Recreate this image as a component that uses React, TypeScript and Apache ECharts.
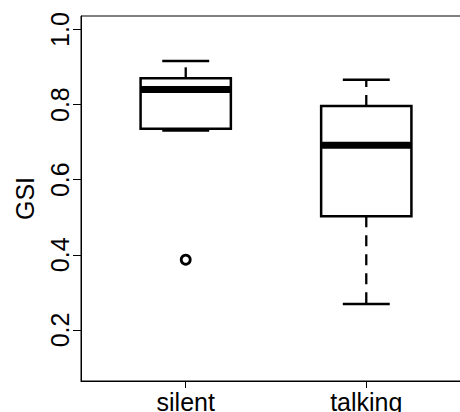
import React, { useEffect, useRef } from "react";
import * as echarts from "echarts";

const categories = ["silent", "talking"];
// [lower whisker, Q1, median, Q3, upper whisker]
const boxStats = [
  [0.731, 0.736, 0.84, 0.87, 0.916],
  [0.269, 0.503, 0.692, 0.796, 0.866],
];
const outliers = [[1, 0.387]];
const yTicks = [0.2, 0.4, 0.6, 0.8, 1.0];
const xTicks = [1, 2];

const FONT = "Liberation Sans, Arial, Helvetica, sans-serif";

export default function App() {
  const ref = useRef<HTMLDivElement>(null);
  useEffect(() => {
    if (!ref.current) return;
    const chart = echarts.init(ref.current, null, { renderer: "svg" });
    const boxData = boxStats.map((s, i) => [xTicks[i], ...s]);
    chart.setOption({
      animation: false,
      backgroundColor: "#fff",
      grid: {
        left: 81,
        top: 16,
        bottom: 31,
        right: -11,
        outerBoundsMode: "none",
        containLabel: false,
        show: true,
        borderColor: "#000",
        borderWidth: 1,
      },
      xAxis: {
        type: "value",
        min: 0.42,
        max: 2.58,
        splitLine: { show: false },
        axisLine: { show: true, lineStyle: { color: "#000", width: 1 } },
        axisTick: {
          show: true,
          customValues: xTicks,
          length: 7,
          lineStyle: { color: "#000", width: 1 },
        },
        axisLabel: {
          customValues: xTicks,
          formatter: (v: number) => categories[Math.round(v) - 1] ?? "",
          color: "#000",
          fontSize: 25,
          fontFamily: FONT,
          margin: 8,
        },
      },
      yAxis: {
        type: "value",
        min: 0.064,
        max: 1.036,
        name: "GSI",
        nameLocation: "middle",
        nameRotate: 90,
        nameGap: 44,
        nameTextStyle: { color: "#000", fontSize: 25, fontFamily: FONT },
        splitLine: { show: false },
        axisLine: { show: true, lineStyle: { color: "#000", width: 1 } },
        axisTick: {
          show: true,
          customValues: yTicks,
          length: 8,
          lineStyle: { color: "#000", width: 1 },
        },
        axisLabel: {
          customValues: yTicks,
          rotate: 90,
          formatter: (v: number) => v.toFixed(1),
          color: "#000",
          fontSize: 25,
          fontFamily: FONT,
          margin: 9,
        },
      },
      series: [
        {
          type: "custom",
          data: boxData,
          encode: { x: 0, y: [1, 2, 3, 4, 5] },
          renderItem: (params: any, api: any) => {
            const x = api.value(0);
            const lo = api.value(1);
            const q1 = api.value(2);
            const med = api.value(3);
            const q3 = api.value(4);
            const hi = api.value(5);
            const half = 0.25;
            const cap = 0.13;
            const pLo = api.coord([x, lo]);
            const pQ1 = api.coord([x, q1]);
            const pMed = api.coord([x, med]);
            const pQ3 = api.coord([x, q3]);
            const pHi = api.coord([x, hi]);
            const left = api.coord([x - half, med])[0];
            const right = api.coord([x + half, med])[0];
            const cl = api.coord([x - cap, med])[0];
            const cr = api.coord([x + cap, med])[0];
            const solid = { stroke: "#000", lineWidth: 2.5, fill: "none" };
            const dashed = { stroke: "#000", lineWidth: 2.3, lineDash: [11, 8] };
            return {
              type: "group",
              children: [
                { type: "line", shape: { x1: pQ3[0], y1: pQ3[1], x2: pHi[0], y2: pHi[1] }, style: dashed },
                { type: "line", shape: { x1: pQ1[0], y1: pQ1[1], x2: pLo[0], y2: pLo[1] }, style: dashed },
                { type: "line", shape: { x1: cl, y1: pHi[1], x2: cr, y2: pHi[1] }, style: solid },
                { type: "line", shape: { x1: cl, y1: pLo[1], x2: cr, y2: pLo[1] }, style: solid },
                {
                  type: "rect",
                  shape: { x: left, y: pQ3[1], width: right - left, height: pQ1[1] - pQ3[1] },
                  style: { stroke: "#000", lineWidth: 2.5, fill: "#fff" },
                },
                { type: "line", shape: { x1: left, y1: pMed[1], x2: right, y2: pMed[1] }, style: { stroke: "#000", lineWidth: 7 } },
              ],
            };
          },
          z: 2,
        },
        {
          type: "scatter",
          data: outliers,
          symbol: "circle",
          symbolSize: 9,
          itemStyle: { color: "#fff", borderColor: "#000", borderWidth: 2.8, opacity: 1 },
          z: 3,
        },
      ],
    });
    return () => chart.dispose();
  }, []);
  return (
    <div
      ref={ref}
      style={{ position: "fixed", left: 0, top: 0, width: 460, height: 412 }}
    />
  );
}
